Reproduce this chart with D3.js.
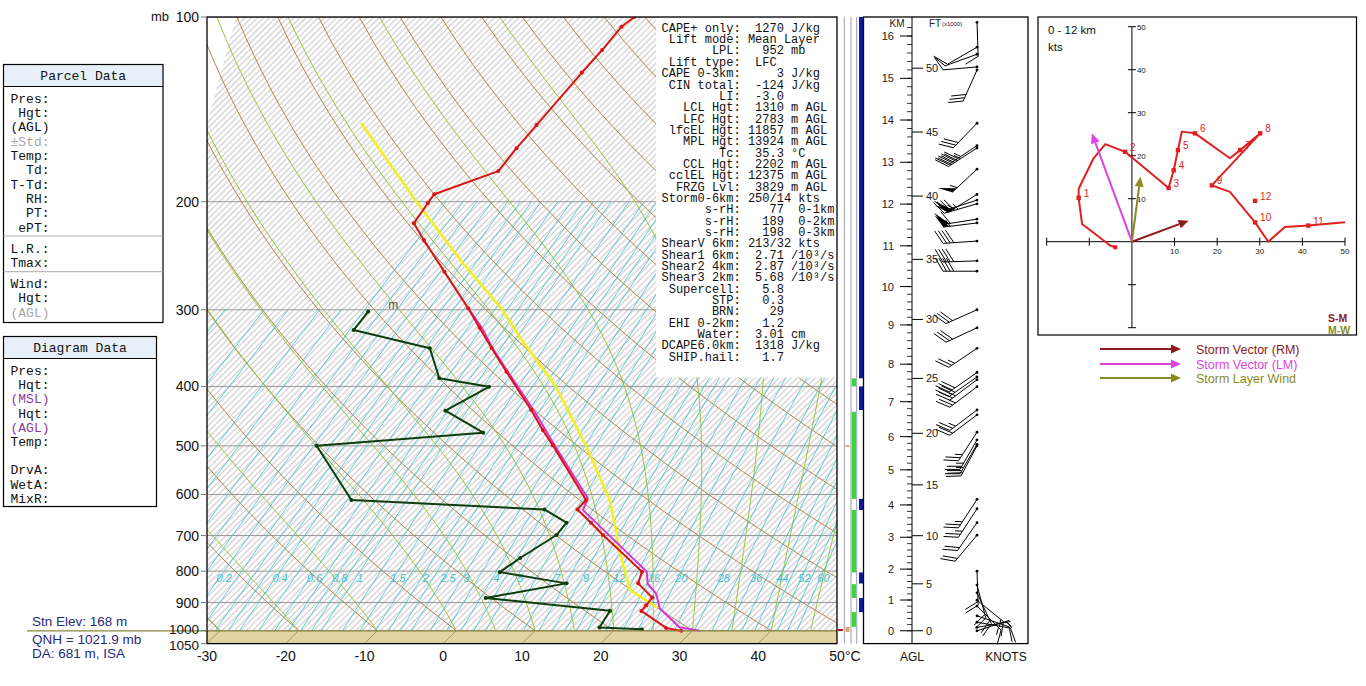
<!DOCTYPE html>
<html>
<head>
<meta charset="utf-8">
<script src="https://cdn.jsdelivr.net/npm/d3@7"></script>
<style>
  body { margin: 0; background: #fff; }
  text { font-family: "Liberation Sans", Arial, sans-serif; }
  .mono { font-family: "Liberation Mono", "Courier New", monospace; white-space: pre; }
</style>
</head>
<body>
<svg id="chart" width="1366" height="686"></svg>
<script>
var W = 1366, H = 686;

// environment temperature (red)
var tempP = [100, 103.7, 113.2, 123.2, 150, 163.6, 178.3, 194.5, 201, 216.9, 231, 260, 298.4, 321, 346.3, 378.5, 437, 471, 498.6, 612.6, 634.6, 667, 698.6, 801.5, 837.6, 883.5, 909.3, 928.8, 990, 1001];
var tempC = [-55.3, -55.7, -55.2, -54.9, -54.0, -53.6, -53.0, -58.2, -57.9, -57.1, -53.7, -47.1, -39.4, -35.5, -31.4, -26.5, -18.5, -14.5, -11.3, -0.1, 0.0, 3.4, 6.5, 16.1, 17.1, 20.7, 20.9, 21.0, 26.3, 28.6];

// dewpoint (dark green)
var dewP = [302, 323.7, 346.7, 387.9, 400.5, 438.2, 475.9, 499.8, 612.6, 634.6, 667, 698.6, 761.5, 803, 837.6, 884.8, 928, 988.6, 995];
var dewC = [-51.7, -51.2, -39.2, -34.2, -26.8, -29.3, -21.7, -41.2, -29.9, -4.2, 0.3, 0.6, -1.1, -1.9, 8.0, -0.4, 17.0, 17.8, 23.4];

// virtual temperature (magenta)
var virtP = [298.4, 321, 346.3, 378.8, 437, 502.9, 608.6, 636.3, 801.5, 839.6, 870.5, 919.7, 987.3, 1001];
var virtC = [-39.4, -35.2, -31.3, -26.3, -18.2, -10.6, -0.1, 0.8, 16.7, 18.4, 20.7, 23.0, 27.9, 31.1];

// lifted parcel (yellow)
var parcelP = [149, 200, 252, 298.4, 331.9, 400.5, 501.7, 612.6, 685.6, 729.7, 858.5, 919.7];
var parcelC = [-76.5, -59.5, -45.8, -35.2, -29.3, -18.3, -6.8, 2.9, 7.5, 9.9, 16.9, 22.8];

var sfcP = 1001;
var isobars = [100, 200, 300, 400, 500, 600, 700, 800, 900, 1000];
var pLabels = [100, 200, 300, 400, 500, 600, 700, 800, 900, 1000, 1050];
var tTicks = [-30, -20, -10, 0, 10, 20, 30, 40, 50];
var dryThetas = [-40, -30, -20, -10, 0, 10, 20, 30, 40, 50, 60, 70, 80, 90, 100, 110, 120, 130, 140, 150, 160, 170, 180, 190, 200];
var moistStarts = [-30, -20, -10, 0, 5, 10, 15, 20, 25, 30, 35, 40, 45];
var mixRatios = [0.01, 0.02, 0.03, 0.05, 0.07, 0.1, 0.13, 0.16, 0.2, 0.25, 0.3, 0.35, 0.4, 0.5, 0.6, 0.7, 0.8, 0.9, 1, 1.25, 1.5, 1.75, 2, 2.25, 2.5, 3, 3.5, 4, 4.5, 5, 6, 7, 8, 9, 10, 11, 12, 14, 16, 18, 20, 24, 28, 32, 36, 40, 44, 48, 52, 56, 60];
var mixLabels = [0.2, 0.4, 0.6, 0.8, 1, 1.5, 2, 2.5, 3, 4, 5, 7, 9, 12, 16, 20, 28, 36, 44, 52, 60];

// side strip levels (mb)
var blueBars = [[100, 388], [400, 437], [610, 636], [804, 838], [885, 933]];
var greenBars = [[388, 400], [440, 610], [636, 804], [840, 885], [933, 986]];

// height axis: pressure at each km AGL
var kmLevels = [0, 1, 2, 3, 4, 5, 6, 7, 8, 9, 10, 11, 12, 13, 14, 15, 16];
var kmP = [1000.6, 891.6, 794, 704.5, 624, 547, 483, 423.6, 368, 317.6, 275, 236, 201.8, 172.5, 147.2, 125.9, 107.4];
var ftLevels = [0, 5, 10, 15, 20, 25, 30, 35, 40, 45, 50];

// wind barbs
var windP = [102, 112, 115, 120.6, 122, 149, 162, 163.5, 177, 194.6, 198.8, 201.6, 213.5, 216.6, 231.8, 249.7, 259.6, 300, 321, 346.7, 379.6, 386, 390, 400.5, 437, 445, 475, 489, 497, 500, 611, 633, 667, 699, 800, 843, 868, 892, 912, 946, 969, 988, 1001];
var windDir = [178, 240, 250, 265, 204, 224, 236, 237, 227, 238, 252, 254, 261, 263, 266, 268, 270, 246, 245, 236, 235, 235, 233, 233, 233, 233, 213, 210, 210, 208, 213, 213, 215, 220, 178, 165, 155, 129, 135, 109, 100, 80, 72];
var windSpd = [10, 10, 10, 10, 30, 30, 45, 45, 55, 55, 50, 45, 60, 55, 40, 40, 40, 30, 30, 25, 30, 30, 25, 25, 25, 20, 25, 25, 25, 20, 25, 25, 20, 20, 20, 22, 20, 16, 17, 12, 8, 5, 4];

// hodograph trace (kts)
var hodoU = [-3.9, -5.1, -11.7, -12.5, -12.5, -9.0, -6.25, -1.6, 8.6, 9.8, 10.8, 11.7, 14.8, 23.0, 25.4, 30.1, 18.75, 23.0, 28.9, 32.0, 35.9, 41.4, 50];
var hodoV = [-1.3, -0.9, 4.1, 10.2, 12.3, 19.4, 22.7, 20.9, 12.5, 16.6, 21.3, 25.6, 25.2, 19.4, 21.3, 25.2, 13.1, 11.6, 4.5, 0, 3.4, 3.75, 4.5];
var hodoKm = [1, 2, 3, 4, 5, 6, 7, 8, 9, 10, 11, 12];
var hodoKmU = [-12.5, -1.6, 8.6, 9.8, 10.8, 14.8, 25.4, 30.1, 18.75, 28.9, 41.4, 28.9];
var hodoKmV = [10.2, 20.9, 12.5, 16.6, 21.3, 25.2, 21.3, 25.2, 13.1, 4.5, 3.75, 9.5];
var hodoTicks = [-20, -10, 10, 20, 30, 40, 50];

var vecNames = ["Storm Vector (RM)", "Storm Vector (LM)", "Storm Layer Wind"];
var vecU = [13.3, -9.4, 2.0];
var vecV = [4.9, 25.2, 15.1];
var vecColors = ["#8b1a1a", "#dd44dd", "#8a8a1e"];

var statLines = [
  "CAPE+ only:  1270 J/kg",
  " Lift mode: Mean Layer",
  "       LPL:   952 mb",
  " Lift type:  LFC",
  "CAPE 0-3km:     3 J/kg",
  " CIN total:  -124 J/kg",
  "        LI:  -3.0",
  "   LCL Hgt:  1310 m AGL",
  "   LFC Hgt:  2783 m AGL",
  " lfcEL Hgt: 11857 m AGL",
  "   MPL Hgt: 13924 m AGL",
  "        Tc:  35.3 °C",
  "   CCL Hgt:  2202 m AGL",
  " cclEL Hgt: 12375 m AGL",
  "  FRZG Lvl:  3829 m AGL",
  "Storm0-6km: 250/14 kts",
  "      s-rH:    77  0-1km",
  "      s-rH:   189  0-2km",
  "      s-rH:   198  0-3km",
  "ShearV 6km: 213/32 kts",
  "Shear1 6km:  2.71 /10³/s",
  "Shear2 4km:  2.87 /10³/s",
  "Shear3 2km:  5.68 /10³/s",
  " Supercell:   5.8",
  "       STP:   0.3",
  "       BRN:    29",
  " EHI 0-2km:   1.2",
  "     Water:  3.01 cm",
  "DCAPE6.0km:  1318 J/kg",
  " SHIP.hail:   1.7"
];

var parcelRows = ["Pres:", " Hgt:", "(AGL)", "±Std:", "Temp:", "  Td:", "T-Td:", "  RH:", "  PT:", " ePT:", "L.R.:", "Tmax:", "Wind:", " Hgt:", "(AGL)"];
var diagramRows = ["Pres:", " Hqt:", "(MSL)", " Hqt:", "(AGL)", "Temp:", "", "DrvA:", "WetA:", "MixR:"];

var svg = d3.select("#chart");
svg.append("rect").attr("width", W).attr("height", H).attr("fill", "#fff");

// scales
var yScale = d3.scaleLog().domain([100, 1050]).range([17, 643.6]);
var tScale = d3.scaleLinear().domain([-30, 50]).range([207, 837]);
var yBot = yScale(1050);
function skewX(T, p) { return tScale(T) + (yBot - yScale(p)); }

var skewLine = d3.line()
  .x(d => skewX(d[1], d[0]))
  .y(d => yScale(d[0]));

var defs = svg.append("defs");
defs.append("clipPath").attr("id", "plotClip")
  .append("rect").attr("x", 207).attr("y", 17).attr("width", 630).attr("height", yBot - 17);
var pat = defs.append("pattern").attr("id", "hatch")
  .attr("patternUnits", "userSpaceOnUse")
  .attr("width", 4.3).attr("height", 4.3)
  .attr("patternTransform", "rotate(45)");
pat.append("line").attr("x1", 1).attr("y1", 0).attr("x2", 1).attr("y2", 4.3)
  .attr("stroke", "#b0b0b0").attr("stroke-width", 0.75);

var plot = svg.append("g").attr("clip-path", "url(#plotClip)");

// hatch background
plot.append("rect").attr("x", 207).attr("y", 17).attr("width", 630).attr("height", yBot - 17)
  .attr("fill", "url(#hatch)");
plot.append("path").attr("d", "M207,17 L236,17 L207,124 Z").attr("fill", "#fff");

// isobars
plot.selectAll(".isobar").data(isobars).enter().append("line")
  .attr("x1", 207).attr("x2", 837)
  .attr("y1", d => yScale(d)).attr("y2", d => yScale(d))
  .attr("stroke", "#999").attr("stroke-width", 1);

var presSteps = d3.range(100, 1051, 10);

// dry adiabats
plot.selectAll(".dry").data(dryThetas).enter().append("path")
  .attr("d", function(th) {
    return skewLine(presSteps.map(p => [p, (th + 273.15) * Math.pow(p / 1000, 0.2857) - 273.15]));
  })
  .attr("fill", "none").attr("stroke", "#a97b3c").attr("stroke-width", 0.9);

// moist adiabats
function moistRate(p, T) {
  var Tk = T + 273.15;
  var es = 6.112 * Math.exp(17.67 * T / (T + 243.5));
  var rs = 0.622 * es / (p - es);
  var num = 287.04 * Tk + 2.501e6 * rs;
  var den = 1005.7 + 2.501e6 * 2.501e6 * rs * 0.622 / (287.04 * Tk * Tk);
  return num / den / p;
}
function moistPath(T0) {
  var pts = [], T = T0, p, dp = -5, k1, k2;
  for (p = 1000; p >= 100; p += dp) {
    pts.push([p, T]);
    k1 = moistRate(p, T);
    k2 = moistRate(p + dp, T + k1 * dp);
    T += (k1 + k2) / 2 * dp;
  }
  T = T0;
  for (p = 1000; p < 1050; p += 5) {
    k1 = moistRate(p, T);
    k2 = moistRate(p + 5, T + k1 * 5);
    T += (k1 + k2) / 2 * 5;
    pts.unshift([p + 5, T]);
  }
  return pts;
}
plot.selectAll(".moist").data(moistStarts).enter().append("path")
  .attr("d", d => skewLine(moistPath(d)))
  .attr("fill", "none").attr("stroke", "#96c43a").attr("stroke-width", 1);

// mixing ratio lines (the driest ones stop lower down)
function mixTd(w, p) {
  var e = (w / 1000) * p / (0.622 + w / 1000);
  var l = Math.log(e / 6.112);
  return 243.5 * l / (17.67 - l);
}
plot.selectAll(".mix").data(mixRatios).enter().append("path")
  .attr("d", function(w) {
    var top = w < 0.1 ? 300 : 200;
    return skewLine(d3.range(top, 1051, 10).map(p => [p, mixTd(w, p)]));
  })
  .attr("fill", "none").attr("stroke", "#3cbccc").attr("stroke-width", 0.8);

plot.selectAll(".mixlab").data(mixLabels).enter().append("text")
  .attr("x", w => skewX(mixTd(w, 800), 800))
  .attr("y", yScale(800) + 10.5)
  .attr("text-anchor", "middle")
  .attr("font-size", 11).attr("font-style", "italic")
  .attr("fill", "#3cc0d0")
  .text(d => d);

// ground band
var ySfc = yScale(sfcP);
plot.append("rect").attr("x", 207).attr("y", ySfc).attr("width", 630).attr("height", yBot - ySfc)
  .attr("fill", "#e2d5a2");
plot.selectAll(".gtick").data(d3.range(-40, 51, 10)).enter().append("line")
  .attr("x1", d => tScale(d)).attr("y1", yBot)
  .attr("x2", d => tScale(d) + (yBot - ySfc)).attr("y2", ySfc)
  .attr("stroke", "#8c8462").attr("stroke-width", 0.8);
svg.append("line").attr("x1", 27).attr("x2", 837).attr("y1", ySfc).attr("y2", ySfc)
  .attr("stroke", "#8a8440").attr("stroke-width", 1.3);

// white stats box
svg.append("rect").attr("x", 656).attr("y", 17.5).attr("width", 181).attr("height", 360)
  .attr("fill", "#fff");
svg.selectAll(".stat").data(statLines).enter().append("text")
  .attr("class", "mono")
  .attr("x", 661.5)
  .attr("y", (d, i) => 31.8 + i * 11.34)
  .attr("font-size", 12)
  .attr("fill", "#111")
  .text(d => d);

// sounding lines
function drawTrace(P, T, color, width, dots) {
  var pts = P.map((p, i) => [p, T[i]]);
  plot.append("path").attr("d", skewLine(pts))
    .attr("fill", "none").attr("stroke", color).attr("stroke-width", width)
    .attr("stroke-linejoin", "round");
  if (dots) {
    plot.selectAll(null).data(pts).enter().append("circle")
      .attr("cx", d => skewX(d[1], d[0])).attr("cy", d => yScale(d[0]))
      .attr("r", 2).attr("fill", color);
  }
}
drawTrace(parcelP, parcelC, "#f4f01a", 2.5, false);
drawTrace(virtP, virtC, "#d632d6", 2, false);
drawTrace(tempP, tempC, "#d81414", 2, true);
drawTrace(dewP, dewC, "#0d3d0d", 2, true);

svg.append("text")
  .attr("x", skewX(dewC[0], dewP[0]) + 20).attr("y", yScale(dewP[0]) - 3)
  .attr("font-size", 12).attr("fill", "#555").text("m");

// frame of skew-T
svg.append("rect").attr("x", 207).attr("y", 17).attr("width", 630).attr("height", yBot - 17)
  .attr("fill", "none").attr("stroke", "#000").attr("stroke-width", 1.3);

// pressure labels
svg.selectAll(".ptick").data(pLabels).enter().append("line")
  .attr("x1", 201).attr("x2", 207)
  .attr("y1", d => yScale(d)).attr("y2", d => yScale(d))
  .attr("stroke", "#777");
svg.selectAll(".plab").data(pLabels).enter().append("text")
  .attr("x", 199).attr("y", d => yScale(d) + (d === 1000 ? 3.5 : d === 1050 ? 6.5 : 5))
  .attr("text-anchor", "end").attr("font-size", d => d >= 1000 ? 13.5 : 14).attr("fill", "#111")
  .text(d => d);
svg.append("text").attr("x", 151).attr("y", 21).attr("font-size", 13).attr("fill", "#111").text("mb");

// temperature labels
svg.selectAll(".tlab").data(tTicks).enter().append("text")
  .attr("x", d => tScale(d)).attr("y", 661)
  .attr("text-anchor", "middle").attr("font-size", 14).attr("fill", "#111")
  .text(d => d);
svg.append("text").attr("x", tScale(50) + 8).attr("y", 661)
  .attr("font-size", 14).attr("fill", "#111").text("°C");

// station text
var stnText = ["Stn Elev: 168 m", "QNH = 1021.9 mb", "DA: 681 m, ISA"];
svg.selectAll(".stn").data(stnText).enter().append("text")
  .attr("x", 32).attr("y", (d, i) => [626, 644, 658][i])
  .attr("font-size", 13.5).attr("fill", "#1f2a80")
  .text(d => d);

// side strip between skew-T and km axis
[844.3, 851, 856.7].forEach(function(x) {
  svg.append("line").attr("x1", x).attr("x2", x).attr("y1", 17).attr("y2", yBot)
    .attr("stroke", "#9c9ab8").attr("stroke-width", 1);
});
svg.selectAll(".blue").data(blueBars).enter().append("rect")
  .attr("x", 859).attr("width", 4.5)
  .attr("y", d => yScale(d[0])).attr("height", d => yScale(d[1]) - yScale(d[0]))
  .attr("fill", "#0b1aa6");
svg.selectAll(".green").data(greenBars).enter().append("rect")
  .attr("x", 851.7).attr("width", 4.3)
  .attr("y", d => yScale(d[0])).attr("height", d => yScale(d[1]) - yScale(d[0]))
  .attr("fill", "#32dc32");
svg.append("rect").attr("x", 845.5).attr("y", yScale(500) - 1).attr("width", 4).attr("height", 2).attr("fill", "#e8a868");
svg.append("rect").attr("x", 845.5).attr("y", yScale(996) - 2.5).attr("width", 4).attr("height", 5).attr("fill", "#e0a468");
svg.append("line").attr("x1", 838).attr("x2", 843).attr("y1", yScale(998)).attr("y2", yScale(998))
  .attr("stroke", "#a02020").attr("stroke-width", 2);

// km / ft axis panel
svg.append("rect").attr("x", 863.5).attr("y", 17).attr("width", 164.5).attr("height", yBot - 17)
  .attr("fill", "none").attr("stroke", "#000").attr("stroke-width", 1.3);
var kmToY = d3.scaleLinear().domain(kmLevels).range(kmP.map(p => yScale(p)));
var axisX = 912;
svg.append("line").attr("x1", axisX).attr("x2", axisX).attr("y1", 17).attr("y2", yBot)
  .attr("stroke", "#000");
svg.selectAll(".kmminor").data(d3.range(0, 16.21, 0.2)).enter().append("line")
  .attr("x1", axisX - 5).attr("x2", axisX)
  .attr("y1", d => kmToY(d)).attr("y2", d => kmToY(d))
  .attr("stroke", "#000").attr("stroke-width", 0.8);
svg.selectAll(".kmmajor").data(kmLevels).enter().append("line")
  .attr("x1", axisX - 12).attr("x2", axisX)
  .attr("y1", d => kmToY(d)).attr("y2", d => kmToY(d))
  .attr("stroke", "#000");
svg.selectAll(".kmlab").data(kmLevels).enter().append("text")
  .attr("x", 894).attr("y", d => kmToY(d) + 4)
  .attr("text-anchor", "end").attr("font-size", 11).attr("fill", "#222")
  .text(d => d);
svg.selectAll(".ftmajor").data(ftLevels).enter().append("line")
  .attr("x1", axisX).attr("x2", axisX + 11)
  .attr("y1", d => kmToY(d * 0.3048)).attr("y2", d => kmToY(d * 0.3048))
  .attr("stroke", "#000");
svg.selectAll(".ftlab").data(ftLevels).enter().append("text")
  .attr("x", 926).attr("y", d => kmToY(d * 0.3048) + 4)
  .attr("font-size", 11).attr("fill", "#222")
  .text(d => d);
svg.append("text").attr("x", 897).attr("y", 27).attr("text-anchor", "middle")
  .attr("font-size", 10).attr("fill", "#222").text("KM");
svg.append("text").attr("x", 929).attr("y", 27).attr("font-size", 10).attr("fill", "#222").text("FT");
svg.append("text").attr("x", 942).attr("y", 26).attr("font-size", 6).attr("fill", "#222").text("(x1000)");
svg.append("text").attr("x", 912).attr("y", 661).attr("text-anchor", "middle")
  .attr("font-size", 12).attr("fill", "#111").text("AGL");
svg.append("text").attr("x", 1006).attr("y", 661).attr("text-anchor", "middle")
  .attr("font-size", 12).attr("fill", "#111").text("KNOTS");

// wind barbs
var barbG = svg.append("g");
function drawBarb(x0, y0, dir, spd) {
  var rad = dir * Math.PI / 180;
  var dx = Math.sin(rad), dy = -Math.cos(rad);
  var L = 34, fl = 15, step = 3.6;
  var tx = x0 + dx * L, ty = y0 + dy * L;
  var a = 60 * Math.PI / 180;
  var fx = dx * Math.cos(a) - dy * Math.sin(a), fy = dx * Math.sin(a) + dy * Math.cos(a);
  barbG.append("line").attr("x1", x0).attr("y1", y0).attr("x2", tx).attr("y2", ty)
    .attr("stroke", "#000").attr("stroke-width", 1);
  barbG.append("circle").attr("cx", x0).attr("cy", y0).attr("r", 1.4).attr("fill", "#000");
  var s = Math.round(spd / 5) * 5;
  var pen = Math.floor(s / 50), full = Math.floor((s % 50) / 10), half = (s % 10) >= 5;
  var pos = 0, i;
  function pt(d) { return [tx - dx * d, ty - dy * d]; }
  for (i = 0; i < pen; i++) {
    var a0 = pt(pos), a1 = pt(pos + 6);
    barbG.append("path")
      .attr("d", "M" + a0 + "L" + [a0[0] + fx * fl, a0[1] + fy * fl] + "L" + a1 + "Z")
      .attr("fill", "#000");
    pos += 7;
  }
  for (i = 0; i < full; i++) {
    var b = pt(pos);
    barbG.append("line").attr("x1", b[0]).attr("y1", b[1])
      .attr("x2", b[0] + fx * fl).attr("y2", b[1] + fy * fl)
      .attr("stroke", "#000").attr("stroke-width", 1);
    pos += step;
  }
  if (half) {
    if (pen + full === 0) pos += step;
    var h = pt(pos);
    barbG.append("line").attr("x1", h[0]).attr("y1", h[1])
      .attr("x2", h[0] + fx * fl * 0.5).attr("y2", h[1] + fy * fl * 0.5)
      .attr("stroke", "#000").attr("stroke-width", 1);
  }
}
windP.forEach(function(p, i) { drawBarb(977, yScale(p), windDir[i], windSpd[i]); });

// left info boxes
function infoBox(x, y, w, h, title, rows, rowY, colors, dividers) {
  var g = svg.append("g");
  g.append("rect").attr("x", x).attr("y", y).attr("width", w).attr("height", 22)
    .attr("fill", "#e7f0f9");
  g.append("rect").attr("x", x).attr("y", y).attr("width", w).attr("height", h)
    .attr("fill", "none").attr("stroke", "#000").attr("stroke-width", 1.2);
  g.append("line").attr("x1", x).attr("x2", x + w).attr("y1", y + 22).attr("y2", y + 22)
    .attr("stroke", "#000").attr("stroke-width", 1);
  g.append("text").attr("class", "mono").attr("x", x + w / 2).attr("y", y + 15.5)
    .attr("text-anchor", "middle").attr("font-size", 13).attr("fill", "#111").text(title);
  g.selectAll("text.row").data(rows).enter().append("text")
    .attr("class", "mono row")
    .attr("x", x + 7).attr("y", (d, i) => rowY(i) + 4.5)
    .attr("font-size", 13)
    .attr("fill", (d, i) => colors[i] || "#111")
    .text(d => d);
  dividers.forEach(function(dy) {
    g.append("line").attr("x1", x).attr("x2", x + w).attr("y1", dy).attr("y2", dy)
      .attr("stroke", "#aaa");
  });
}
infoBox(3.5, 64.5, 159.5, 258, "Parcel Data", parcelRows,
  i => 98 + i * 14.35 + (i >= 12 ? 13.4 : i >= 10 ? 6.7 : 0),
  {3: "#a8a8a8", 14: "#a8a8a8"}, [236, 271.7]);
infoBox(3.5, 336.5, 153, 170, "Diagram Data", diagramRows,
  i => 370.5 + i * 14.2,
  {2: "#8b3a9b", 4: "#8b3a9b"}, []);

// hodograph
var hx = d3.scaleLinear().domain([-20, 50]).range([1046.7, 1345]);
var hy = d3.scaleLinear().domain([-20, 50]).range([327.7, 26.7]);
var hodo = svg.append("g");
hodo.append("rect").attr("x", 1038).attr("y", 17).attr("width", 318.5).attr("height", 318)
  .attr("fill", "#fff").attr("stroke", "#000").attr("stroke-width", 1.2);
hodo.append("line").attr("x1", hx(-20)).attr("x2", hx(50)).attr("y1", hy(0)).attr("y2", hy(0))
  .attr("stroke", "#000");
hodo.append("line").attr("x1", hx(0)).attr("x2", hx(0)).attr("y1", hy(-20)).attr("y2", hy(50))
  .attr("stroke", "#000");
hodo.selectAll(".hxt").data(hodoTicks).enter().append("line")
  .attr("x1", d => hx(d)).attr("x2", d => hx(d))
  .attr("y1", hy(0) - 4).attr("y2", hy(0) + 4).attr("stroke", "#000");
hodo.selectAll(".hyt").data(hodoTicks).enter().append("line")
  .attr("x1", hx(0) - 4).attr("x2", hx(0) + 4)
  .attr("y1", d => hy(d)).attr("y2", d => hy(d)).attr("stroke", "#000");
hodo.selectAll(".hxl").data(hodoTicks.filter(d => d > 0)).enter().append("text")
  .attr("x", d => hx(d)).attr("y", hy(0) + 12)
  .attr("text-anchor", "middle").attr("font-size", 8).attr("fill", "#222")
  .text(d => d);
hodo.selectAll(".hyl").data(hodoTicks.filter(d => d > 0)).enter().append("text")
  .attr("x", hx(0) + 5).attr("y", d => hy(d) + 3)
  .attr("font-size", 8).attr("fill", "#222")
  .text(d => d);
hodo.append("text").attr("x", 1048).attr("y", 34).attr("font-size", 11.5).attr("fill", "#111").text("0 - 12 km");
hodo.append("text").attr("x", 1048).attr("y", 51).attr("font-size", 11.5).attr("fill", "#111").text("kts");

hodo.append("path")
  .attr("d", d3.line().x(d => hx(d[0])).y(d => hy(d[1]))(hodoU.map((u, i) => [u, hodoV[i]])))
  .attr("fill", "none").attr("stroke", "#e02020").attr("stroke-width", 2)
  .attr("stroke-linejoin", "round");
hodo.append("rect").attr("x", hx(hodoU[0]) - 2).attr("y", hy(hodoV[0]) - 2)
  .attr("width", 4).attr("height", 4).attr("fill", "#e02020");
hodo.selectAll(".hkm").data(hodoKm).enter().append("rect")
  .attr("x", (d, i) => hx(hodoKmU[i]) - 2.2).attr("y", (d, i) => hy(hodoKmV[i]) - 2.2)
  .attr("width", 4.4).attr("height", 4.4).attr("fill", "#e02020");
hodo.selectAll(".hkml").data(hodoKm).enter().append("text")
  .attr("x", (d, i) => hx(hodoKmU[i]) + 5).attr("y", (d, i) => hy(hodoKmV[i]) - 1)
  .attr("font-size", 10).attr("fill", "#d02828")
  .text(d => d);

function arrow(g, x1, y1, x2, y2, color) {
  var ang = Math.atan2(y2 - y1, x2 - x1), len = 10, wid = 4.5;
  var bx = x2 - Math.cos(ang) * len, by = y2 - Math.sin(ang) * len;
  g.append("line").attr("x1", x1).attr("y1", y1).attr("x2", bx).attr("y2", by)
    .attr("stroke", color).attr("stroke-width", 2);
  g.append("path")
    .attr("d", "M" + [x2, y2] + "L" + [bx - Math.sin(ang) * wid, by + Math.cos(ang) * wid] +
      "L" + [bx + Math.sin(ang) * wid, by - Math.cos(ang) * wid] + "Z")
    .attr("fill", color);
}
vecU.forEach(function(u, i) {
  arrow(hodo, hx(0), hy(0), hx(u), hy(vecV[i]), vecColors[i]);
});
hodo.append("text").attr("x", 1328).attr("y", 322).attr("font-size", 10.5).attr("font-weight", "bold")
  .attr("fill", "#8b1a1a").text("S-M");
hodo.append("text").attr("x", 1328).attr("y", 334).attr("font-size", 10.5).attr("font-weight", "bold")
  .attr("fill", "#8a8a1e").text("M-W");

// legend
vecNames.forEach(function(name, i) {
  var ly = [349, 364, 378][i];
  arrow(svg, 1100, ly, 1181, ly, vecColors[i]);
  svg.append("text").attr("x", 1196).attr("y", ly + 4.5)
    .attr("font-size", 12.5).attr("fill", vecColors[i]).text(name);
});
</script>
</body>
</html>
